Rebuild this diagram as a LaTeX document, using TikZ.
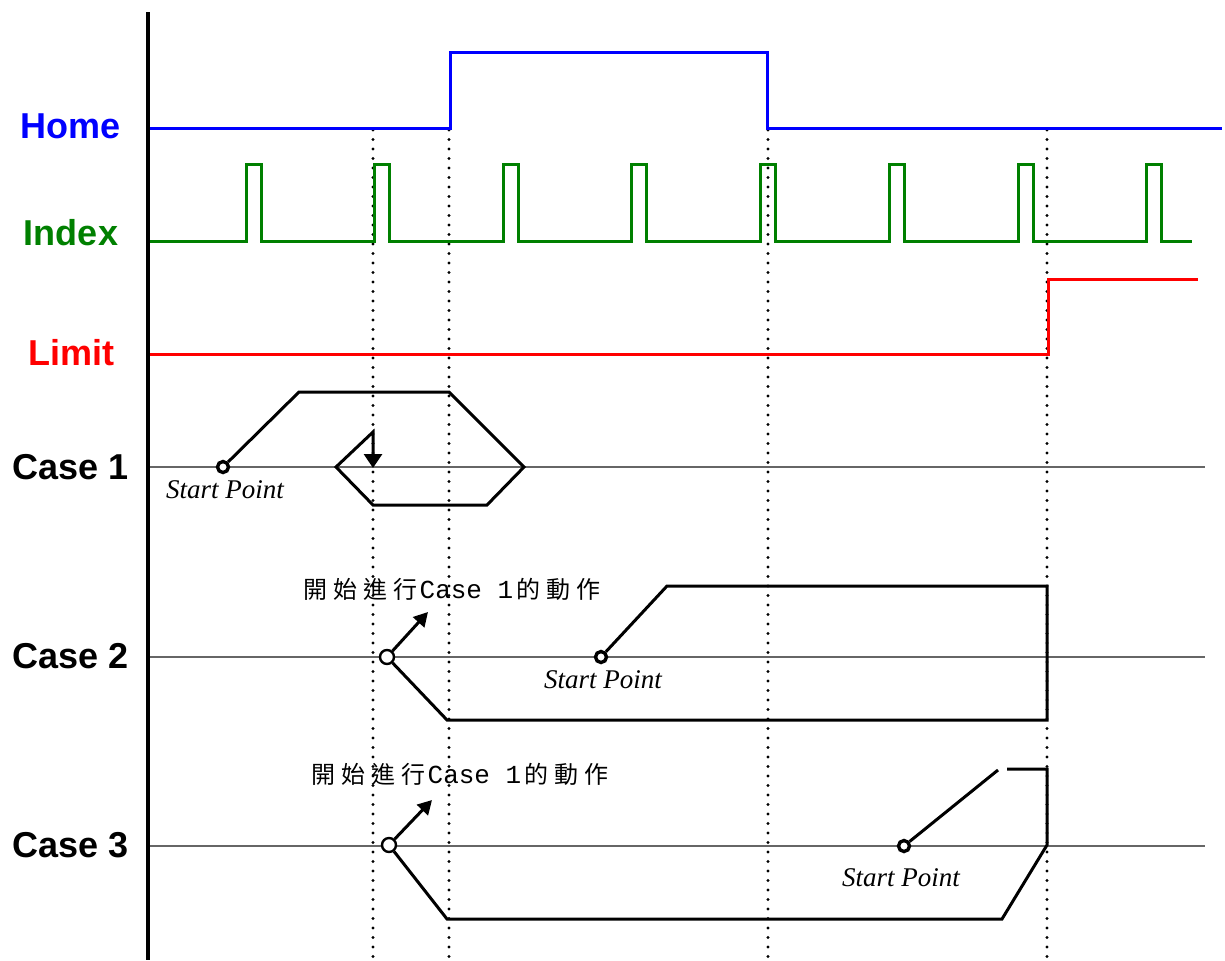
\documentclass[tikz,border=0pt]{standalone}
\usepackage{fontspec}
\setmainfont{Liberation Serif}
\newfontfamily\lblfont{Liberation Sans}
\newfontfamily\cjkfont{Noto Sans CJK TC}
\newfontfamily\monofont{Liberation Mono}
\usetikzlibrary{arrows.meta}
\definecolor{idxgreen}{RGB}{0,128,0}
\newcommand{\casenote}{\cjkfont\fontsize{12}{14}\selectfont 開\hspace{3pt}始\hspace{3pt}進\hspace{3pt}行\hspace{1pt}{\monofont\fontsize{13}{14}\selectfont Case 1}\hspace{1.5pt}的\hspace{3pt}動\hspace{3pt}作}
\begin{document}
\begin{tikzpicture}[x=0.5pt,y=-0.5pt,
  sig/.style={line width=1.5pt},
  casepath/.style={line width=1.5pt,line join=miter},
  dots/.style={line width=1.6pt,dash pattern=on 0pt off 4.75pt,line cap=round},
  baseline/.style={line width=0.6pt,gray!80!black},
  lbl/.style={font=\lblfont\bfseries\fontsize{18}{20}\selectfont,anchor=center},
  sp/.style={font=\itshape\fontsize{13.5}{15}\selectfont,inner sep=0pt},
  startpt/.style={circle,draw,line width=1.7pt,inner sep=0pt,minimum size=5.5pt,fill=white},
  opencirc/.style={circle,draw,line width=1.2pt,inner sep=0pt,minimum size=7pt,fill=white},
  note/.style={inner sep=0pt,anchor=center},
  bigtip/.style={-{Triangle[width=9pt,length=7pt]}},
  tip/.style={-{Triangle[width=7.5pt,length=7pt]}}
]
\useasboundingbox (0,0) rectangle (1225,960);
% labels
\node[lbl,text=blue] (lhome) at (71,126) {Home};
\node[lbl,text=idxgreen] (lindex) at (71,233) {Index};
\node[lbl,text=red] (llimit) at (71,353) {Limit};
\node[lbl] (lc1) at (71,467) {Case 1};
\node[lbl] (lc2) at (71,656) {Case 2};
\node[lbl] (lc3) at (71,845) {Case 3};
% case base lines
\draw[baseline] (150,467) -- (1205,467);
\draw[baseline] (150,657) -- (1205,657);
\draw[baseline] (150,846) -- (1205,846);
% dotted verticals
\foreach \x in {373,449,768,1047} \draw[dots] (\x,130) -- (\x,960);
% axis
\draw[line width=2pt] (148,12) -- (148,960);
% Home
\draw[sig,blue] (150,128) -- (450,128) -- (450,52) -- (767,52) -- (767,128) -- (1222,128);
% Index
\draw[sig,idxgreen] (150,241)
  \foreach \x in {246,374,503,631,760,889,1018,1146} { -- (\x,241) -- (\x,164) -- (\x+15,164) -- (\x+15,241) } -- (1192,241);
% Limit
\draw[sig,red] (150,354) -- (1048,354) -- (1048,279) -- (1198,279);
% Case 1
\node[startpt] (s1) at (223,467) {};
\node[sp] (t1) at (225,490) {Start Point};
\draw[casepath,bigtip] (s1) -- (299,392) -- (449,392) -- (524,467) -- (487,505) -- (373,505) -- (336,467) -- (373,432) -- (373,468);
% Case 2
\node[note] (n2) at (452,589) {\casenote};
\node[opencirc] (o2) at (387,657) {};
\node[startpt] (s2) at (601,657) {};
\node[sp] (t2) at (603,680) {Start Point};
\draw[casepath] (o2) -- (447,720) -- (1047,720) -- (1047,586) -- (667,586) -- (s2);
\draw[casepath,tip] (o2) -- (428,612);
% Case 3
\node[note] (n3) at (460,774) {\casenote};
\node[opencirc] (o3) at (389,845) {};
\node[startpt] (s3) at (904,846) {};
\node[sp] (t3) at (901,878) {Start Point};
\draw[casepath] (o3) -- (447,919) -- (1002,919) -- (1047,845) -- (1047,769) -- (1007,769);
\draw[casepath] (s3) -- (998,770);
\draw[casepath,tip] (o3) -- (432,800);
\end{tikzpicture}
\end{document}
